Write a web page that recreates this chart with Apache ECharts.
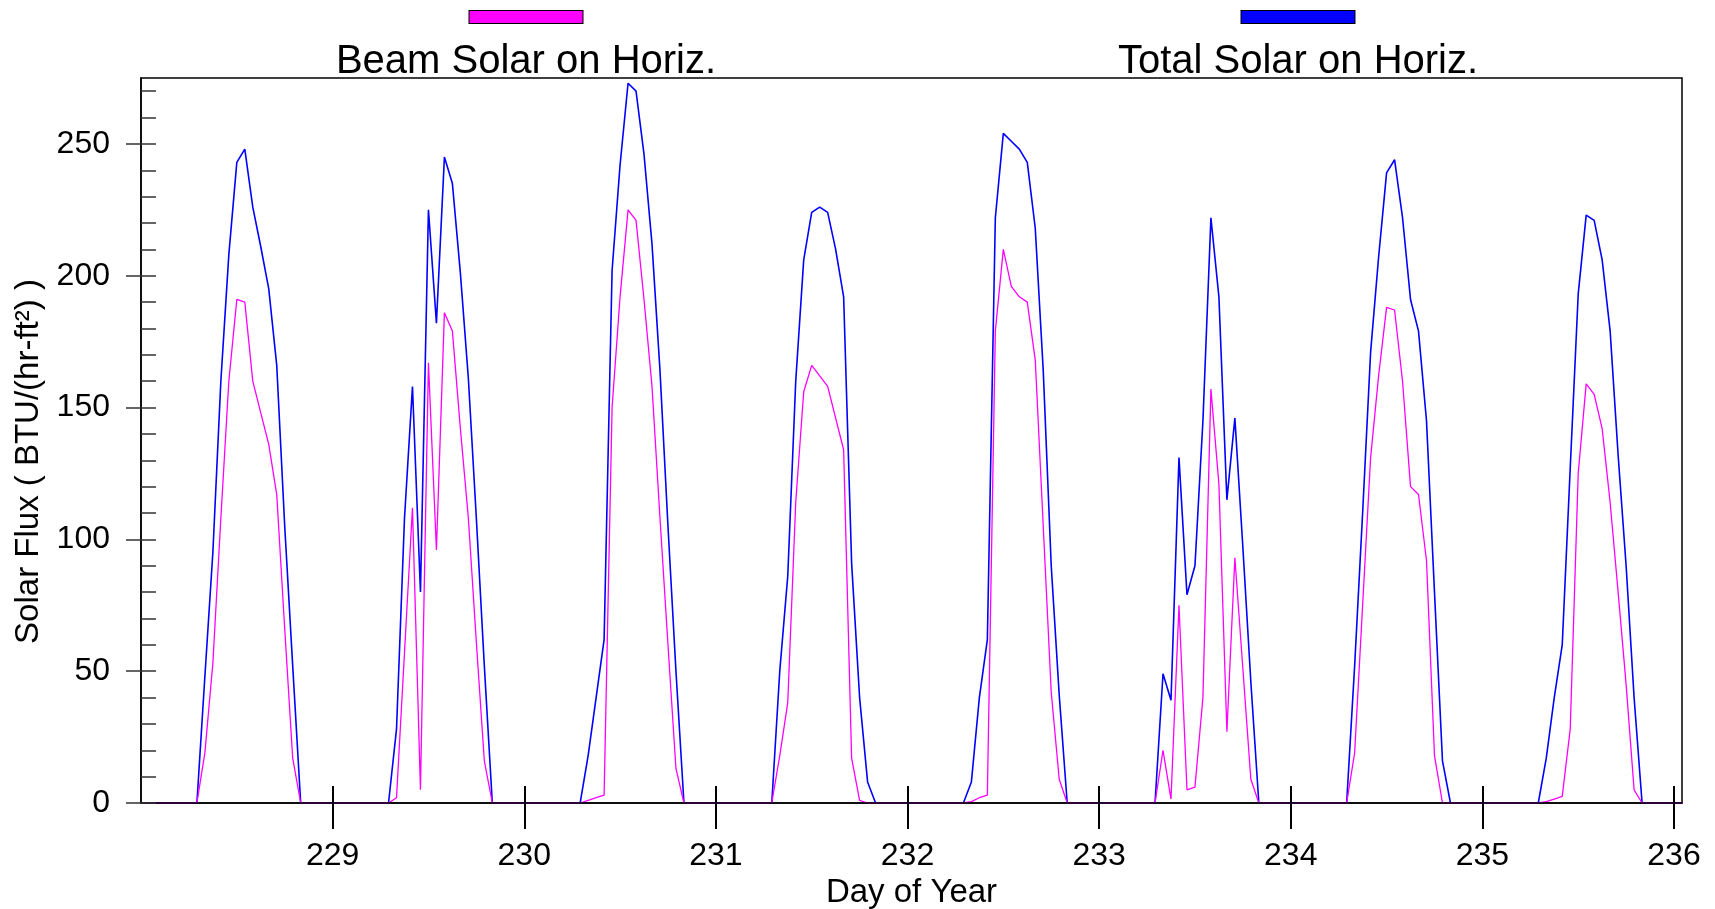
<!DOCTYPE html>
<html>
<head>
<meta charset="utf-8">
<script src="https://cdn.jsdelivr.net/npm/echarts@6/dist/echarts.min.js"></script>
<style>
html,body{margin:0;padding:0;background:#fff;}
#chart{width:1715px;height:909px;}
</style>
</head>
<body>
<div id="chart"></div>
<script>
// ---------------- data (hourly values, hour 0..23 of each day) ----------------
const firstDay = 228;
const seriesNames = ['Beam Solar on Horiz.', 'Total Solar on Horiz.'];
const seriesColors = ['#ff00ff', '#0000ff'];

const total228 = [0,0,0,0,0,0,0,0, 48,95,160,208,243,248,226,211,195,166,105,52, 0,0,0,0];
const total229 = [0,0,0,0,0,0,0,0, 28,108,158,80,225,182,245,235,201,161,108,52, 0,0,0,0];
const total230 = [0,0,0,0,0,0,0,0, 18,40,62,202,242,273,270,246,212,164,105,50, 0,0,0,0];
const total231 = [0,0,0,0,0,0,0,0, 50,86,160,206,224,226,224,210,192,91,40,8, 0,0,0,0];
const total232 = [0,0,0,0,0,0,0,0, 8,40,62,222,254,251,248,243,218,164,90,41, 0,0,0,0];
const total233 = [0,0,0,0,0,0,0,0, 49,39,131,79,90,145,222,192,115,146,97,46, 0,0,0,0];
const total234 = [0,0,0,0,0,0,0,0, 52,110,171,207,239,244,222,191,179,145,80,16, 0,0,0,0];
const total235 = [0,0,0,0,0,0,0,0, 17,40,60,127,193,223,221,206,179,132,90,40, 0,0,0,0];
const total236 = [0,0];

const beam228 = [0,0,0,0,0,0,0,0, 19,53,108,160,191,190,160,148,136,117,66,17, 0,0,0,0];
const beam229 = [0,0,0,0,0,0,0,0, 2,57,112,5,167,96,186,179,142,108,61,16, 0,0,0,0];
const beam230 = [0,0,0,0,0,0,0,0, 1,2,3,150,192,225,221,191,158,108,60,13, 0,0,0,0];
const beam231 = [0,0,0,0,0,0,0,0, 18,38,114,156,166,162,158,146,134,17,1,0, 0,0,0,0];
const beam232 = [0,0,0,0,0,0,0,0, 0.5,2,3,179,210,196,192,190,168,105,42,9, 0,0,0,0];
const beam233 = [0,0,0,0,0,0,0,0, 20,1.5,75,5,6,40,157,121,27,93,51,9, 0,0,0,0];
const beam234 = [0,0,0,0,0,0,0,0, 19,75,131,162,188,187,160,120,117,92,18,0, 0,0,0,0];
const beam235 = [0,0,0,0,0,0,0,0, 0.5,1.5,2.5,28,125,159,155,142,114,80,45,5, 0,0,0,0];
const beam236 = [0,0];

const dayTicks = [229, 230, 231, 232, 233, 234, 235, 236];
const yMajorTicks = [0, 50, 100, 150, 200, 250];
const yMinorTicks = [0,10,20,30,40,50,60,70,80,90,100,110,120,130,140,150,160,170,180,190,200,210,220,230,240,250,260,270];

// ---------------- build series ----------------
const totalDays = [total228, total229, total230, total231, total232, total233, total234, total235, total236];
const beamDays  = [beam228, beam229, beam230, beam231, beam232, beam233, beam234, beam235, beam236];

function toPoints(days) {
  const pts = [];
  days.forEach(function (arr, d) {
    arr.forEach(function (v, h) {
      pts.push([firstDay + d + h / 24, v]);
    });
  });
  return pts;
}
const totalData = toPoints(totalDays);
const beamData = toPoints(beamDays);
const xMax = totalData[totalData.length - 1][0];

const FONT = "'Liberation Sans', Arial, Helvetica, sans-serif";

const chart = echarts.init(document.getElementById('chart'), null, {renderer: 'canvas'});

function legendFor(i, left) {
  return {
    data: [seriesNames[i]],
    left: left,
    top: 10,
    padding: 0,
    itemWidth: 0,
    itemHeight: 0,
    icon: 'rect',
    selectedMode: false,
    formatter: '{sw| }\n{t|{name}}',
    textStyle: {
      color: '#000',
      fontFamily: FONT,
      rich: {
        sw: {width: 113, height: 12, lineHeight: 12, backgroundColor: seriesColors[i],
             borderColor: '#000', borderWidth: 1, align: 'center', fontSize: 10},
        t: {fontSize: 40, lineHeight: 78, width: 390, align: 'center', color: '#000', fontFamily: FONT}
      }
    }
  };
}

const option = {
  animation: false,
  backgroundColor: '#fff',
  textStyle: {fontFamily: FONT},
  legend: [legendFor(0, 326), legendFor(1, 1098)],
  grid: {left: 141, right: 33, top: 78, bottom: 106, show: true, containLabel: false,
         outerBoundsMode: 'none',
         borderColor: '#000', borderWidth: 1.5, backgroundColor: 'transparent'},
  xAxis: [
    {
      type: 'value', min: firstDay, max: xMax, position: 'bottom', z: 5,
      axisLine: {show: true, onZero: false, lineStyle: {color: '#000', width: 1.5}},
      axisTick: {show: true, inside: true, length: 17, customValues: dayTicks,
                 lineStyle: {color: '#000', width: 2}},
      axisLabel: {show: false},
      splitLine: {show: false}
    },
    {
      type: 'value', min: firstDay, max: xMax, position: 'bottom', z: 5,
      axisLine: {show: false, onZero: false},
      axisTick: {show: true, inside: false, length: 26, customValues: dayTicks,
                 lineStyle: {color: '#000', width: 2}},
      axisLabel: {show: true, customValues: dayTicks, margin: 37, fontSize: 32,
                  color: '#000', fontFamily: FONT},
      splitLine: {show: false},
      name: 'Day of Year', nameLocation: 'middle', nameGap: 73, nameMoveOverlap: false,
      nameTextStyle: {fontSize: 33, color: '#000', fontFamily: FONT}
    }
  ],
  yAxis: [
    {
      type: 'value', min: 0, max: 275, position: 'left', z: 5,
      axisLine: {show: true, onZero: false, lineStyle: {color: '#000', width: 1.5}},
      axisTick: {show: true, inside: true, length: 15, customValues: yMinorTicks,
                 lineStyle: {color: '#333', width: 1.5}},
      axisLabel: {show: false},
      splitLine: {show: false}
    },
    {
      type: 'value', min: 0, max: 275, position: 'left', z: 5,
      axisLine: {show: false, onZero: false},
      axisTick: {show: true, inside: false, length: 15, customValues: yMajorTicks,
                 lineStyle: {color: '#333', width: 1.5}},
      axisLabel: {show: true, customValues: yMajorTicks, margin: 31, fontSize: 32,
                  color: '#000', fontFamily: FONT},
      splitLine: {show: false},
      name: 'Solar Flux ( BTU/(hr-ft\u00B2) )', nameLocation: 'middle', nameGap: 96,
      nameMoveOverlap: false,
      nameTextStyle: {fontSize: 33, color: '#000', fontFamily: FONT, padding: [0, 42, 0, 0]}
    }
  ],
  series: [
    {
      name: seriesNames[1], type: 'line', data: totalData, xAxisIndex: 0, yAxisIndex: 0,
      symbol: 'none', showSymbol: false, z: 2,
      lineStyle: {color: seriesColors[1], width: 1.6}, itemStyle: {color: seriesColors[1]}
    },
    {
      name: seriesNames[0], type: 'line', data: beamData, xAxisIndex: 0, yAxisIndex: 0,
      symbol: 'none', showSymbol: false, z: 3,
      lineStyle: {color: seriesColors[0], width: 1.3}, itemStyle: {color: seriesColors[0]}
    }
  ]
};
chart.setOption(option);
</script>
</body>
</html>
